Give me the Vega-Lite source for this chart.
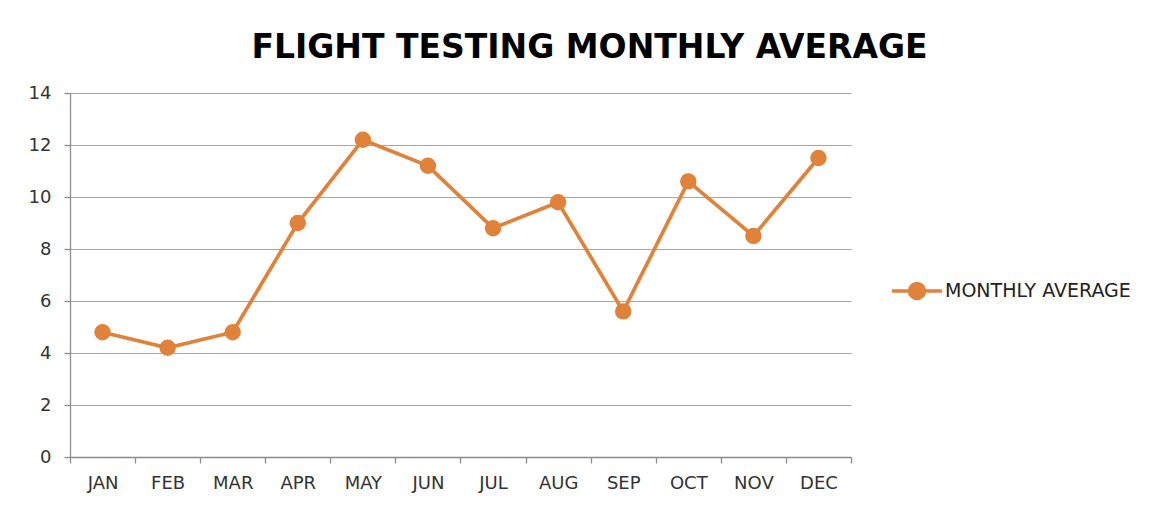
{
  "$schema": "https://vega.github.io/schema/vega-lite/v6.json",
  "autosize": {"type": "none"},
  "width": 781,
  "height": 364,
  "padding": {"left": 70, "top": 93, "right": 317, "bottom": 49},
  "background": "white",
  "title": {
    "text": "FLIGHT TESTING MONTHLY AVERAGE",
    "font": "DejaVu Sans",
    "fontSize": 33,
    "fontWeight": "bold",
    "color": "#000000",
    "anchor": "middle",
    "dx": 129,
    "offset": 19
  },
  "data": {
    "values": [
      {"month": "JAN", "value": 4.8, "series": "MONTHLY AVERAGE"},
      {"month": "FEB", "value": 4.2, "series": "MONTHLY AVERAGE"},
      {"month": "MAR", "value": 4.8, "series": "MONTHLY AVERAGE"},
      {"month": "APR", "value": 9.0, "series": "MONTHLY AVERAGE"},
      {"month": "MAY", "value": 12.2, "series": "MONTHLY AVERAGE"},
      {"month": "JUN", "value": 11.2, "series": "MONTHLY AVERAGE"},
      {"month": "JUL", "value": 8.8, "series": "MONTHLY AVERAGE"},
      {"month": "AUG", "value": 9.8, "series": "MONTHLY AVERAGE"},
      {"month": "SEP", "value": 5.6, "series": "MONTHLY AVERAGE"},
      {"month": "OCT", "value": 10.6, "series": "MONTHLY AVERAGE"},
      {"month": "NOV", "value": 8.5, "series": "MONTHLY AVERAGE"},
      {"month": "DEC", "value": 11.5, "series": "MONTHLY AVERAGE"}
    ]
  },
  "mark": {
    "type": "line",
    "strokeWidth": 3.7,
    "point": {"filled": true, "size": 270, "opacity": 1}
  },
  "encoding": {
    "x": {
      "field": "month",
      "type": "nominal",
      "sort": null,
      "bandPosition": 0.5,
      "scale": {"type": "band", "paddingInner": 0, "paddingOuter": 0},
      "axis": {
        "title": null,
        "labelAngle": 0,
        "tickBand": "extent",
        "tickSize": 6,
        "labelPadding": 11,
        "grid": false
      }
    },
    "y": {
      "field": "value",
      "type": "quantitative",
      "scale": {"domain": [0, 14], "nice": false},
      "axis": {
        "title": null,
        "values": [0, 2, 4, 6, 8, 10, 12, 14],
        "tickSize": 6,
        "labelPadding": 13,
        "grid": true
      }
    },
    "color": {
      "field": "series",
      "type": "nominal",
      "scale": {"range": ["#E0823A"]},
      "legend": {
        "title": null,
        "orient": "none",
        "legendX": 820,
        "legendY": 171,
        "symbolType": "M -1 0 L -0.3 0 M 0.3 0 L 1 0 M -0.3 0 A 0.3 0.3 0 1 1 0.3 0 A 0.3 0.3 0 1 1 -0.3 0 Z",
        "symbolSize": 2500,
        "symbolStrokeWidth": 3.5,
        "symbolFillColor": "#E0823A",
        "symbolStrokeColor": "#E0823A",
        "symbolOpacity": 1,
        "labelFont": "DejaVu Sans",
        "labelFontSize": 19,
        "labelColor": "#222222",
        "labelOffset": 1,
        "labelLimit": 400
      }
    }
  },
  "config": {
    "view": {"stroke": null},
    "axis": {
      "labelFont": "DejaVu Sans",
      "labelFontSize": 18,
      "labelColor": "#333333",
      "domainColor": "#8C8C8C",
      "tickColor": "#8C8C8C",
      "gridColor": "#A6A6A6",
      "domainWidth": 1.3,
      "tickWidth": 1.3,
      "gridWidth": 1
    }
  }
}
